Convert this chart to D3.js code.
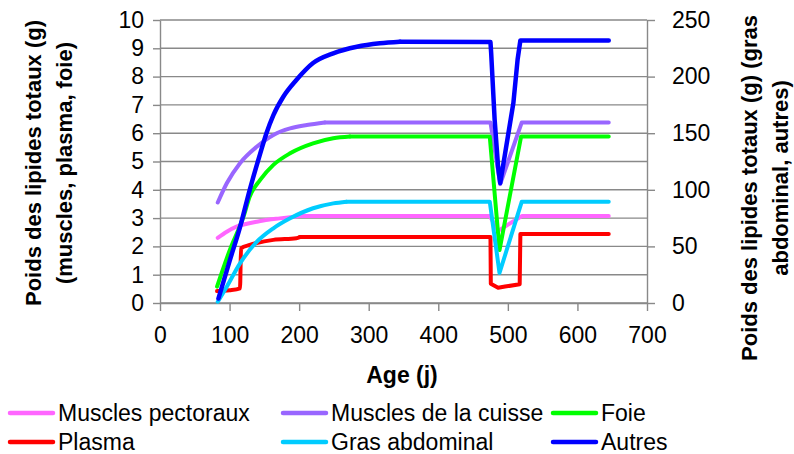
<!DOCTYPE html>
<html>
<head>
<meta charset="utf-8">
<script src="https://cdn.jsdelivr.net/npm/d3@7"></script>
<style>
  body { margin: 0; background: #fff; }
  text { font-family: "Liberation Sans", Arial, sans-serif; fill: #000; }
</style>
</head>
<body>
<div id="chart"></div>
<script>
// values
var pectAge = [83, 96, 110, 125, 139, 155, 172, 201, 474, 486, 520, 645];
var pectVal = [2.30, 2.52, 2.70, 2.80, 2.87, 2.94, 2.99, 3.07, 3.07, 2.55, 3.07, 3.07];

var cuisseAge = [83, 96, 115, 139, 163, 187, 211, 237, 475, 489, 520, 645];
var cuisseVal = [3.55, 4.23, 4.94, 5.52, 5.94, 6.17, 6.29, 6.38, 6.38, 4.2, 6.38, 6.38];

var foieAge = [82, 100, 120, 129, 144, 163, 187, 220, 249, 273, 474, 488, 519, 645];
var foieVal = [0.58, 1.85, 3.05, 3.76, 4.35, 4.88, 5.29, 5.64, 5.82, 5.88, 5.88, 1.87, 5.88, 5.88];

var plasmaAge = [82, 100, 115, 116.5, 129, 139, 163, 196, 201, 475, 475.5, 486, 496, 517, 518, 645];
var plasmaVal = [0.42, 0.45, 0.52, 1.93, 2.05, 2.12, 2.23, 2.29, 2.33, 2.33, 0.68, 0.54, 0.58, 0.66, 2.44, 2.44];

var grasAge = [83, 96, 115, 139, 163, 187, 220, 249, 268, 474, 488, 520, 645];
var grasVal = [1.1, 14.4, 35, 54, 66, 74.8, 83.7, 88, 89.5, 89.5, 26.5, 89.5, 89.5];

var autresAge = [84, 100, 115, 129, 144, 153, 163, 177, 196, 220, 249, 283, 316, 345, 475, 476, 481, 486, 489, 496, 508, 514, 518, 645];
var autresVal = [4, 37, 67, 100, 132, 150, 166, 182, 197, 212, 220.6, 226.4, 229.4, 230.8, 230.5, 221, 162, 120, 106, 132, 177, 215, 232, 232];

var xTicks = [0, 100, 200, 300, 400, 500, 600, 700];
var yLeftTicks = [0, 1, 2, 3, 4, 5, 6, 7, 8, 9, 10];
var yRightTicks = [0, 50, 100, 150, 200, 250];

var series = [
  {name: "Muscles pectoraux", age: pectAge, val: pectVal, color: "#ff66ff", axis: "left"},
  {name: "Muscles de la cuisse", age: cuisseAge, val: cuisseVal, color: "#9966ff", axis: "left"},
  {name: "Foie", age: foieAge, val: foieVal, color: "#00ff00", axis: "left"},
  {name: "Plasma", age: plasmaAge, val: plasmaVal, color: "#ff0000", axis: "left"},
  {name: "Gras abdominal", age: grasAge, val: grasVal, color: "#00ccff", axis: "right"},
  {name: "Autres", age: autresAge, val: autresVal, color: "#0000ff", axis: "right"}
];

// growth phase is smooth, the fasting dip is drawn with straight segments
var smoothUntil = 400;

var width = 794, height = 454;
var plot = {left: 160, right: 647, top: 20, bottom: 303};
var gridColor = "#898989";

var svg = d3.select("#chart").append("svg")
  .attr("width", width)
  .attr("height", height);

var x = d3.scaleLinear().domain([0, 700]).range([plot.left, plot.right]);
var yL = d3.scaleLinear().domain([0, 10]).range([plot.bottom, plot.top]);
var yR = d3.scaleLinear().domain([0, 250]).range([plot.bottom, plot.top]);

// horizontal grid
svg.append("g")
  .selectAll("line")
  .data(yLeftTicks)
  .join("line")
  .attr("x1", plot.left).attr("x2", plot.right)
  .attr("y1", d => yL(d)).attr("y2", d => yL(d))
  .attr("stroke", gridColor)
  .attr("stroke-width", 1.4);

function styleAxis(g) {
  g.select(".domain").attr("stroke", gridColor).attr("stroke-width", 1.4);
  g.selectAll(".tick line").attr("stroke", gridColor).attr("stroke-width", 1.4);
  g.selectAll(".tick text")
    .style("font-family", '"Liberation Sans", Arial, sans-serif')
    .style("font-size", "23px")
    .attr("fill", "#000");
}

// left axis
svg.append("g")
  .attr("transform", `translate(${plot.left},0)`)
  .call(d3.axisLeft(yL).tickValues(yLeftTicks).tickSize(7).tickSizeOuter(0).tickPadding(9))
  .call(styleAxis);

// right axis
svg.append("g")
  .attr("transform", `translate(${plot.right},0)`)
  .call(d3.axisRight(yR).tickValues(yRightTicks).tickSize(8).tickSizeOuter(0).tickPadding(17))
  .call(styleAxis);

// bottom axis
svg.append("g")
  .attr("transform", `translate(0,${plot.bottom})`)
  .call(d3.axisBottom(x).tickValues(xTicks).tickSize(8).tickSizeOuter(0).tickPadding(16))
  .call(styleAxis);

// lines
series.forEach(function (s) {
  var yScale = s.axis === "left" ? yL : yR;
  var pts = s.age.map((a, i) => [a, s.val[i]]);
  var k = pts.findIndex(p => p[0] > smoothUntil);
  var smoothPart = pts.slice(0, k);
  var straightPart = pts.slice(k - 1);
  var g = svg.append("g")
    .attr("fill", "none")
    .attr("stroke", s.color)
    .attr("stroke-width", s.name === "Autres" ? 4.5 : 4)
    .attr("stroke-linejoin", "round")
    .attr("stroke-linecap", "round");
  g.append("path")
    .attr("d", d3.line().curve(d3.curveMonotoneX)
      .x(d => x(d[0])).y(d => yScale(d[1]))(smoothPart));
  g.append("path")
    .attr("d", d3.line()
      .x(d => x(d[0])).y(d => yScale(d[1]))(straightPart));
});

// axis titles
svg.append("text")
  .attr("x", 402).attr("y", 383)
  .attr("text-anchor", "middle")
  .style("font-size", "23px").style("font-weight", "bold")
  .text("Age (j)");

var leftTitle = svg.append("text")
  .attr("transform", "translate(0,163) rotate(-90)")
  .attr("text-anchor", "middle")
  .style("font-size", "22px").style("font-weight", "bold");
leftTitle.append("tspan").attr("x", 0).attr("y", 41).text("Poids des lipides totaux (g)");
leftTitle.append("tspan").attr("x", 0).attr("y", 72).text("(muscles, plasma, foie)");

svg.append("text")
  .attr("transform", "translate(757,188) rotate(-90)")
  .attr("text-anchor", "middle")
  .style("font-size", "22px").style("font-weight", "bold")
  .text("Poids des lipides totaux (g) (gras");
svg.append("text")
  .attr("transform", "translate(788,178) rotate(-90)")
  .attr("text-anchor", "middle")
  .style("font-size", "22px").style("font-weight", "bold")
  .text("abdominal, autres)");

// legend
var legendCols = [10, 283, 553];
var legendRows = [413, 442];
var legend = svg.append("g")
  .selectAll("g")
  .data(series)
  .join("g")
  .attr("transform", (d, i) => `translate(${legendCols[i % 3]},${legendRows[Math.floor(i / 3)]})`);

legend.append("line")
  .attr("x1", 0).attr("x2", 43)
  .attr("stroke", d => d.color)
  .attr("stroke-width", 4.5)
  .attr("stroke-linecap", "round");

legend.append("text")
  .attr("x", 48)
  .attr("dy", "0.35em")
  .style("font-size", "23px")
  .text(d => d.name);
</script>
</body>
</html>
